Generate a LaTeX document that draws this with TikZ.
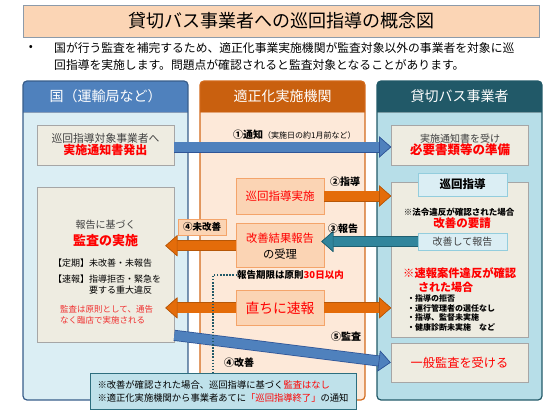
\documentclass[tikz,border=0pt]{standalone}
\usepackage{fontspec}
\setmainfont{Noto Sans CJK JP}
\usepackage{xcolor}
\definecolor{kokublue}{HTML}{4F81BD}
\definecolor{kokuline}{HTML}{385D8A}
\definecolor{kokubody}{HTML}{DBEEF4}
\definecolor{kikanorange}{HTML}{C9600F}
\definecolor{kikanline}{HTML}{D2691A}
\definecolor{kikanbody}{HTML}{FDE9D9}
\definecolor{jigyoteal}{HTML}{215968}
\definecolor{jigyoline}{HTML}{215968}
\definecolor{jigyobody}{HTML}{B7DEE8}
\definecolor{beige}{HTML}{EEECE1}
\definecolor{beigeline}{HTML}{A6A6A6}
\definecolor{peachfill}{HTML}{FBD4B4}
\definecolor{peachline}{HTML}{F4A46A}
\definecolor{tabfill}{HTML}{DBEEF4}
\definecolor{tabline}{HTML}{93CDDD}
\definecolor{titlefill}{HTML}{FBD5B5}
\definecolor{titleline}{HTML}{8C9BAA}
\definecolor{notefill}{HTML}{BFE1EA}
\definecolor{noteline}{HTML}{2D6E7E}
\definecolor{arrowB}{HTML}{4F81BD}
\definecolor{arrowBline}{HTML}{2F5597}
\definecolor{arrowO}{HTML}{E46C0A}
\definecolor{arrowOline}{HTML}{B65708}
\definecolor{arrowT}{HTML}{31859C}
\definecolor{arrowTline}{HTML}{1F5F70}
\definecolor{txtgray}{HTML}{404040}
\definecolor{softred}{HTML}{F03030}
\usepackage{tikz}
\usetikzlibrary{arrows.meta, positioning, calc}
\newcommand{\fsize}[1]{\fontsize{#1}{16pt}\selectfont}
\tikzset{
  titlebox/.style={rectangle, draw=titleline, line width=0.8pt, fill=titlefill, minimum width=516pt,
                   minimum height=32pt, inner sep=0pt, font=\fsize{18pt}},
  leadtxt/.style ={inner sep=0pt, font=\fsize{11.8pt}},
  panelhead/.style={inner sep=0pt, text=white, font=\fsize{14pt}},
  greybox/.style ={rectangle, draw=beigeline, line width=0.7pt, fill=beige, align=center,
                   minimum width=137pt, inner sep=0pt},
  peachbox/.style={rectangle, draw=peachline, line width=0.7pt, fill=peachfill, align=center,
                   minimum width=88pt, inner sep=0pt, text=red},
  tabbox/.style  ={rectangle, draw=tabline, line width=0.8pt, fill=tabfill, align=center,
                   minimum width=89pt, inner sep=0pt},
  tagbox/.style  ={rectangle, draw=peachline, line width=0.7pt, fill=peachfill, minimum width=48pt,
                   minimum height=16pt, inner sep=0pt, font=\bfseries\fsize{9.5pt}},
  notebox/.style ={rectangle, draw=noteline, line width=1pt, fill=notefill, align=left,
                   minimum width=266pt, minimum height=36pt, inner sep=0pt, font=\fsize{9.3pt}},
  plain/.style   ={inner sep=0pt},
  numlbl/.style  ={inner sep=0pt, font=\bfseries\fsize{10pt}},
  blockarr/.style 2 args={draw=#1, line width=9.5pt, preaction={draw=#2, line width=11pt},
                   -{Triangle[length=12pt, width=21pt, line width=0.6pt, color=#2, fill=#1]}},
  barrblue/.style  ={blockarr={arrowB}{arrowBline}},
  barrorange/.style={blockarr={arrowO}{arrowOline}},
  barrteal/.style  ={blockarr={arrowT}{arrowTline}},
  kdot/.style={draw=jigyoteal, line width=1.5pt, dash pattern=on 1.5pt off 1.6pt},
}
\begin{document}
\begin{tikzpicture}[x=1pt, y=-1pt]
  \useasboundingbox (0,0) rectangle (560,420);
  % title and lead text
  \node[titlebox] (title) at (281,21) {貸切バス事業者への巡回指導の概念図};
  \node[leadtxt] (dot) at (31,48) {•};
  \node[leadtxt, anchor=west] (lead1) at (54,48) {国が行う監査を補完するため、適正化事業実施機関が監査対象以外の事業者を対象に巡};
  \node[leadtxt, anchor=west] (lead2) at (54,65) {回指導を実施します。問題点が確認されると監査対象となることがあります。};

  % three columns
  \foreach \px/\hcol/\bcol/\lcol/\ttl/\nm in {23/kokublue/kokubody/kokuline/国（運輸局など）/lhead,
      200/kikanorange/kikanbody/kikanline/適正化実施機関/mhead, 377/jigyoteal/jigyobody/jigyoline/貸切バス事業者/rhead}{
    \begin{scope}
      \clip[rounded corners=4pt] (\px,81) rectangle ++(165,319);
      \fill[\bcol] (\px,81) rectangle ++(165,319);
      \fill[\hcol] (\px,81) rectangle ++(165,31);
    \end{scope}
    \draw[\lcol!60] (\px,112) -- ++(165,0);
    \draw[\lcol, line width=1.2pt, rounded corners=4pt] (\px,81) rectangle ++(165,319);
    \node[panelhead] (\nm) at (\px+82.5,96.5) {\ttl};
  }

  % left column
  \node[greybox, minimum height=40pt] (lnotice) at (105.5,145)
    {{\fsize{10.8pt}\color{txtgray}巡回指導対象事業者へ}\\{\bfseries\fsize{12pt}\color{red}実施通知書発出}};
  \node[greybox, minimum height=155pt] (laudit) at (105.5,264.5) {};
  \node[plain, font=\fsize{10pt}, text=txtgray] (auditT1) at (105.5,225) {報告に基づく};
  \node[plain, font=\bfseries\fsize{13pt}, text=red] (auditT2) at (105.5,241) {監査の実施};
  \node[plain, anchor=west, font=\fsize{9pt}] (auditT3) at (53,263) {【定期】未改善・未報告};
  \node[plain, anchor=west, font=\fsize{9pt}] (auditT4) at (53,279) {【速報】指導拒否・緊急を};
  \node[plain, anchor=west, font=\fsize{9pt}] (auditT5) at (89,290) {要する重大違反};
  \node[plain, anchor=west, font=\fsize{8.5pt}, text=softred] (auditT6) at (60,309) {監査は原則として、通告};
  \node[plain, anchor=west, font=\fsize{8.5pt}, text=softred] (auditT7) at (60,320) {なく臨店で実施される};

  % middle column
  \node[peachbox, minimum height=36pt, font=\fsize{11.5pt}] (mguide) at (280,196) {巡回指導実施};
  \node[peachbox, minimum height=44pt, font=\fsize{11.3pt}, below=9pt of mguide] (mreport)
    {改善結果報告\\{\color{black}の受理}};
  \node[peachbox, minimum height=35pt, font=\fsize{13.8pt}, below=22pt of mreport] (mflash) {直ちに速報};

  % right column
  \node[greybox, minimum height=40pt] (rprep) at (460,145)
    {{\fsize{10pt}\color{txtgray}実施通知書を受け}\\{\bfseries\fsize{12.5pt}\color{red}必要書類等の準備}};
  \node[greybox, minimum height=155pt] (rguide) at (460,259.5) {};
  \node[tabbox, minimum height=23pt, font=\bfseries\fsize{11.5pt}] (rtabA) at (462.5,184.5) {巡回指導};
  \node[plain, font=\bfseries\fsize{8.5pt}] (rguideT1) at (459,212) {※法令違反が確認された場合};
  \node[plain, font=\bfseries\fsize{11.5pt}, text=red] (rguideT2) at (462,223.5) {改善の要請};
  \node[tabbox, minimum height=17pt, font=\fsize{10pt}, text=txtgray] (rtabB) at (462.5,241.5) {改善して報告};
  \node[plain, anchor=west, font=\bfseries\fsize{11.3pt}, text=red] (rguideT3) at (403,273) {※速報案件違反が確認};
  \node[plain, anchor=west, font=\bfseries\fsize{11pt}, text=red] (rguideT4) at (418,287) {された場合};
  \node[plain, anchor=west, font=\bfseries\fsize{8pt}] (rlist1) at (407,298) {・指導の拒否};
  \node[plain, anchor=west, font=\bfseries\fsize{8pt}] (rlist2) at (407,308) {・運行管理者の選任なし};
  \node[plain, anchor=west, font=\bfseries\fsize{8pt}] (rlist3) at (407,317.5) {・指導、監督未実施};
  \node[plain, anchor=west, font=\bfseries\fsize{8pt}] (rlist4) at (407,327) {・健康診断未実施　など};
  \node[greybox, minimum height=39pt, font=\fsize{12.2pt}, text=red] (rgeneral) at (459.5,362.5) {一般監査を受ける};

  % block arrows
  \draw[barrblue] ([yshift=-2pt]lnotice.east) -- ([yshift=-2pt]rprep.west);
  \draw[barrorange] (mguide.east) -- (mguide.east -| rguide.west);
  \draw[barrteal] (rtabB.west) -- ($(rtabB.west -| mreport.east)+(-3,0)$);
  \draw[barrorange] (mreport.west) -- ($(mreport.west -| laudit.east)+(-9,0)$);
  \draw[barrorange] (mflash.west) -- ($(mflash.west -| laudit.east)+(-9,0)$);
  \draw[barrorange] (mflash.east) -- (mflash.east -| rguide.west);
  \coordinate (auditout) at ([yshift=7pt]laudit.south east);
  \draw[barrblue] (auditout) -- (rgeneral.west);

  % step labels
  \node[numlbl, anchor=west] (lbl1) at (233,135) {①通知{\mdseries\fsize{8pt}（実施日の約1月前など）}};
  \node[numlbl] (lbl2) at (345,182) {②指導};
  \node[numlbl] (lbl3) at (343,229) {③報告};
  \node[tagbox] (lbl4a) at (202,227) {④未改善};
  \node[numlbl, anchor=west, font=\bfseries\fsize{9.5pt}] (limit) at (237,275) {報告期限は原則{\color{red}30日以内}};
  \node[numlbl] (lbl5) at (346,337) {⑤監査};
  \node[numlbl] (lbl4b) at (239,363) {④改善};

  % closing note
  \node[notebox] (note) at (223,391)
    {※改善が確認された場合、巡回指導に基づく{\color{red}監査はなし}\\[-3pt]※適正化実施機関から事業者あてに{\color{red}「巡回指導終了」}の通知};
  \coordinate (dotturn) at (213,275);
  \draw[kdot] (limit.west) -- (dotturn) -- (dotturn |- note.north);
\end{tikzpicture}
\end{document}
